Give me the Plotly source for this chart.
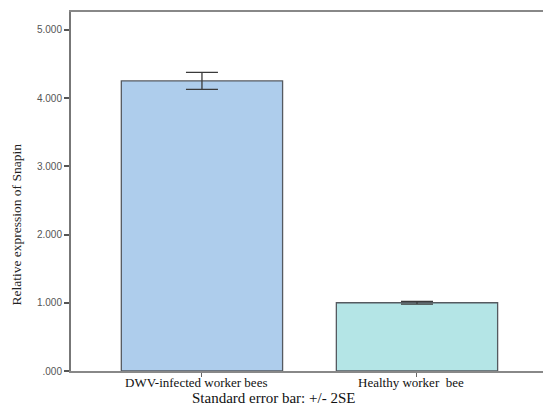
import plotly.graph_objects as go

categories = ["DWV-infected worker bees", "Healthy worker  bee"]
values = [4.25, 1.00]
errors = [0.125, 0.02]
colors = ["#aecdec", "#b4e5e6"]
ytick_vals = [0, 1, 2, 3, 4, 5]
ytick_text = [".000", "1.000", "2.000", "3.000", "4.000", "5.000"]

SERIF = "Liberation Serif, Times New Roman, serif"

fig = go.Figure()
fig.add_trace(go.Bar(
    x=[0, 1], y=values,
    width=0.75,
    marker=dict(color=colors, line=dict(color="#555a60", width=1.3)),
    error_y=dict(type="data", array=errors, visible=True, color="#3a3a3a", thickness=1.3, width=16),
    showlegend=False,
))

annotations = [
    dict(text=cat, x=i, xref="x", yref="paper", y=-0.0334, showarrow=False,
         xanchor="center", yanchor="middle", xshift=-6,
         font=dict(family=SERIF, size=13, color="#111"))
    for i, cat in enumerate(categories)
]
annotations += [
    dict(text="Relative expression of Snapin", xref="paper", yref="paper",
         x=-0.115, y=0.407, textangle=-90, showarrow=False,
         xanchor="center", yanchor="middle",
         font=dict(family=SERIF, size=13.5, color="#222")),
    dict(text="Standard error bar: +/- 2SE", xref="paper", yref="paper",
         x=(273 - 71) / 472, y=-0.0752, showarrow=False,
         xanchor="center", yanchor="middle",
         font=dict(family=SERIF, size=15, color="#111")),
]

fig.update_layout(
    width=543, height=405,
    margin=dict(l=71, r=0, t=12, b=34),
    paper_bgcolor="white", plot_bgcolor="white",
    xaxis=dict(
        range=[-0.609, 1.586],
        tickvals=[0, 1], ticktext=["", ""],
        ticks="outside", ticklen=4, tickcolor="#666", tickwidth=1,
        showline=True, linecolor="#888", linewidth=2, mirror=True,
        showgrid=False, zeroline=False,
    ),
    yaxis=dict(
        range=[0, 5.26],
        tickvals=ytick_vals, ticktext=ytick_text,
        ticks="outside", ticklen=5, tickcolor="#555", tickwidth=1.5,
        showline=True, linecolor="#777", linewidth=2,
        showgrid=False, zeroline=False,
        tickfont=dict(family="Liberation Sans, Arial, sans-serif", size=10, color="#555"),
    ),
    annotations=annotations,
)

fig.write_html("out.html", config={"displayModeBar": False},
               post_script="document.body.style.margin='0';document.body.style.padding='0';")
